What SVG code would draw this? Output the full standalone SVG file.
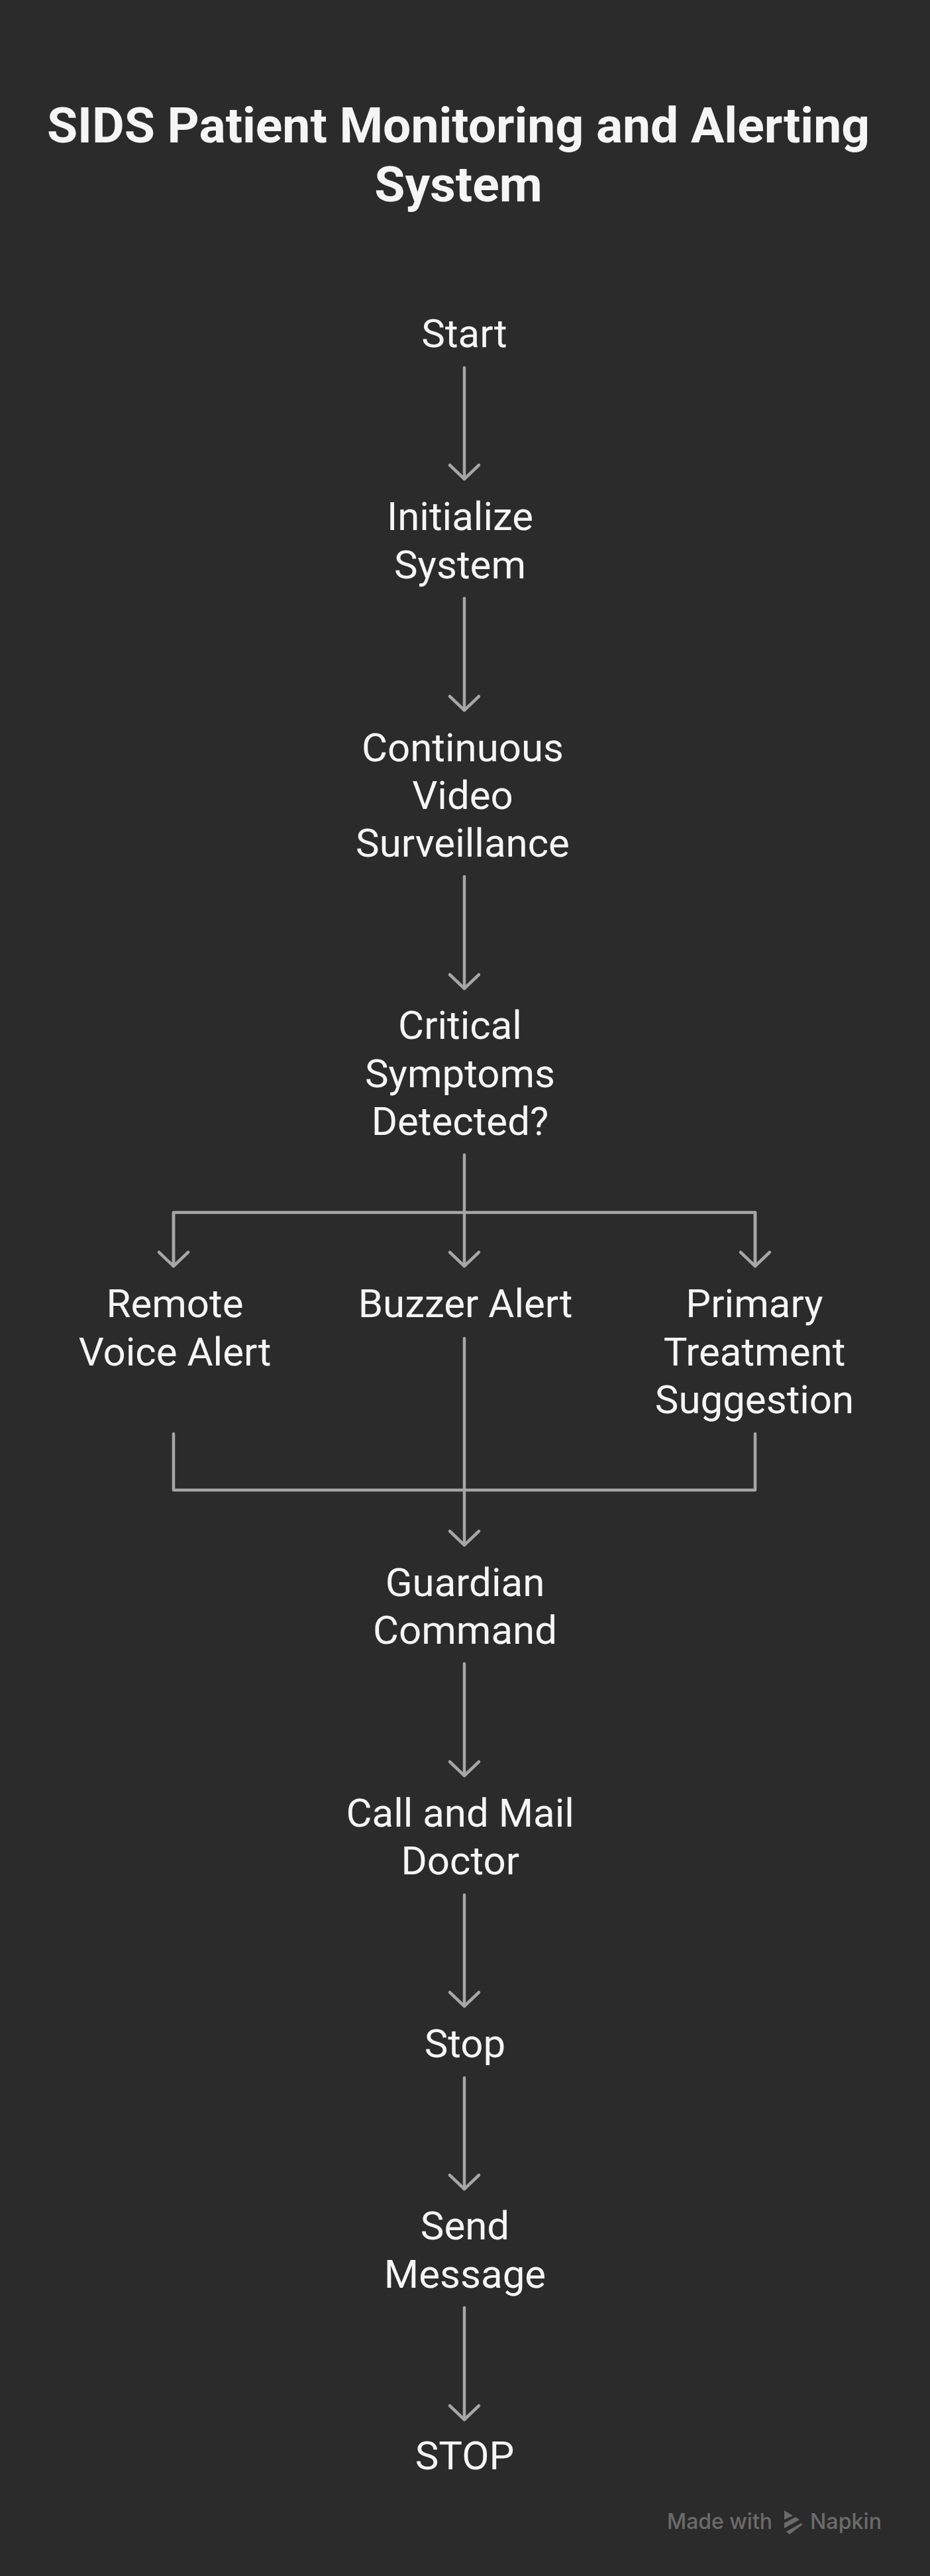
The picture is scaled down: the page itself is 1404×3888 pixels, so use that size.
<svg xmlns="http://www.w3.org/2000/svg" width="1404" height="3888" viewBox="0 0 1404 3888">
<style>
.bg{fill:#2b2b2b}
.title{font-family:Roboto,"Liberation Sans",sans-serif;font-weight:700;font-size:75px;fill:#f5f5f5;text-anchor:middle}
.lbl{font-family:Roboto,"Liberation Sans",sans-serif;font-weight:400;font-size:60px;fill:#f5f5f5;text-anchor:middle}
.conn{fill:none;stroke:#a6a6a6;stroke-width:4.5;stroke-linecap:round;stroke-linejoin:round}
.wm{font-family:Inter,"Open Sans",sans-serif;font-weight:500;font-size:32px;fill:#6b6b6b}
</style>
<defs>
<marker id="ah" markerUnits="userSpaceOnUse" viewBox="-30 -30 40 60" refX="0" refY="0" markerWidth="40" markerHeight="60" orient="auto" overflow="visible">
<path d="M-21,-22 L0,0 L-21,22" fill="none" stroke="#a6a6a6" stroke-width="4.5" stroke-linecap="round" stroke-linejoin="round"/>
</marker>
</defs>
<rect class="bg" x="0" y="0" width="1404" height="3888"/>
<g id="title">
<text class="title" x="692" y="215">SIDS Patient Monitoring and Alerting</text>
<text class="title" x="692" y="304">System</text>
</g>
<g id="connectors">
<line class="conn" x1="701" y1="555" x2="701" y2="723" marker-end="url(#ah)"/>
<line class="conn" x1="701" y1="903" x2="701" y2="1072" marker-end="url(#ah)"/>
<line class="conn" x1="701" y1="1323" x2="701" y2="1492" marker-end="url(#ah)"/>
<line class="conn" x1="701" y1="1743" x2="701" y2="1911" marker-end="url(#ah)"/>
<path class="conn" d="M262,1911 L262,1830 L1140,1830 L1140,1911"/>
<line class="conn" x1="262" y1="1830" x2="262" y2="1911" marker-end="url(#ah)"/>
<line class="conn" x1="1140" y1="1830" x2="1140" y2="1911" marker-end="url(#ah)"/>
<line class="conn" x1="701" y1="2020" x2="701" y2="2332" marker-end="url(#ah)"/>
<path class="conn" d="M262,2164 L262,2249 L1140,2249 L1140,2164"/>
<line class="conn" x1="701" y1="2511" x2="701" y2="2680" marker-end="url(#ah)"/>
<line class="conn" x1="701" y1="2860" x2="701" y2="3028" marker-end="url(#ah)"/>
<line class="conn" x1="701" y1="3136" x2="701" y2="3304" marker-end="url(#ah)"/>
<line class="conn" x1="701" y1="3483" x2="701" y2="3652" marker-end="url(#ah)"/>
</g>
<g id="n-start"><text class="lbl" x="701" y="524">Start</text></g>
<g id="n-init"><text class="lbl" x="694.5" y="800">Initialize</text><text class="lbl" x="694.5" y="873">System</text></g>
<g id="n-video"><text class="lbl" x="698.5" y="1149">Continuous</text><text class="lbl" x="698.5" y="1221">Video</text><text class="lbl" x="698.5" y="1293">Surveillance</text></g>
<g id="n-critical"><text class="lbl" x="694.5" y="1568">Critical</text><text class="lbl" x="694.5" y="1641">Symptoms</text><text class="lbl" x="694.5" y="1713">Detected?</text></g>
<g id="n-remote"><text class="lbl" x="264" y="1988">Remote</text><text class="lbl" x="264" y="2061">Voice Alert</text></g>
<g id="n-buzzer"><text class="lbl" x="702.5" y="1988">Buzzer Alert</text></g>
<g id="n-primary"><text class="lbl" x="1139" y="1988">Primary</text><text class="lbl" x="1139" y="2061">Treatment</text><text class="lbl" x="1139" y="2133">Suggestion</text></g>
<g id="n-guardian"><text class="lbl" x="702" y="2409">Guardian</text><text class="lbl" x="702" y="2481">Command</text></g>
<g id="n-call"><text class="lbl" x="694.7" y="2757">Call and Mail</text><text class="lbl" x="694.7" y="2829">Doctor</text></g>
<g id="n-stop1"><text class="lbl" x="702" y="3105">Stop</text></g>
<g id="n-send"><text class="lbl" x="702" y="3380">Send</text><text class="lbl" x="702" y="3453">Message</text></g>
<g id="n-stop2"><text class="lbl" x="701.5" y="3727">STOP</text></g>
<g id="watermark">
<text class="wm" x="1007" y="3817" textLength="159" lengthAdjust="spacingAndGlyphs">Made with</text>
<polygon points="1184,3789 1197,3797 1184,3803" fill="#6b6b6b"/>
<polygon points="1184,3808 1201,3799 1207,3803 1184,3816" fill="#6b6b6b"/>
<polygon points="1187,3821 1210,3808 1211,3811 1192,3825" fill="#6b6b6b"/>
<text class="wm" x="1223" y="3817" textLength="108" lengthAdjust="spacingAndGlyphs">Napkin</text>
</g>
</svg>
